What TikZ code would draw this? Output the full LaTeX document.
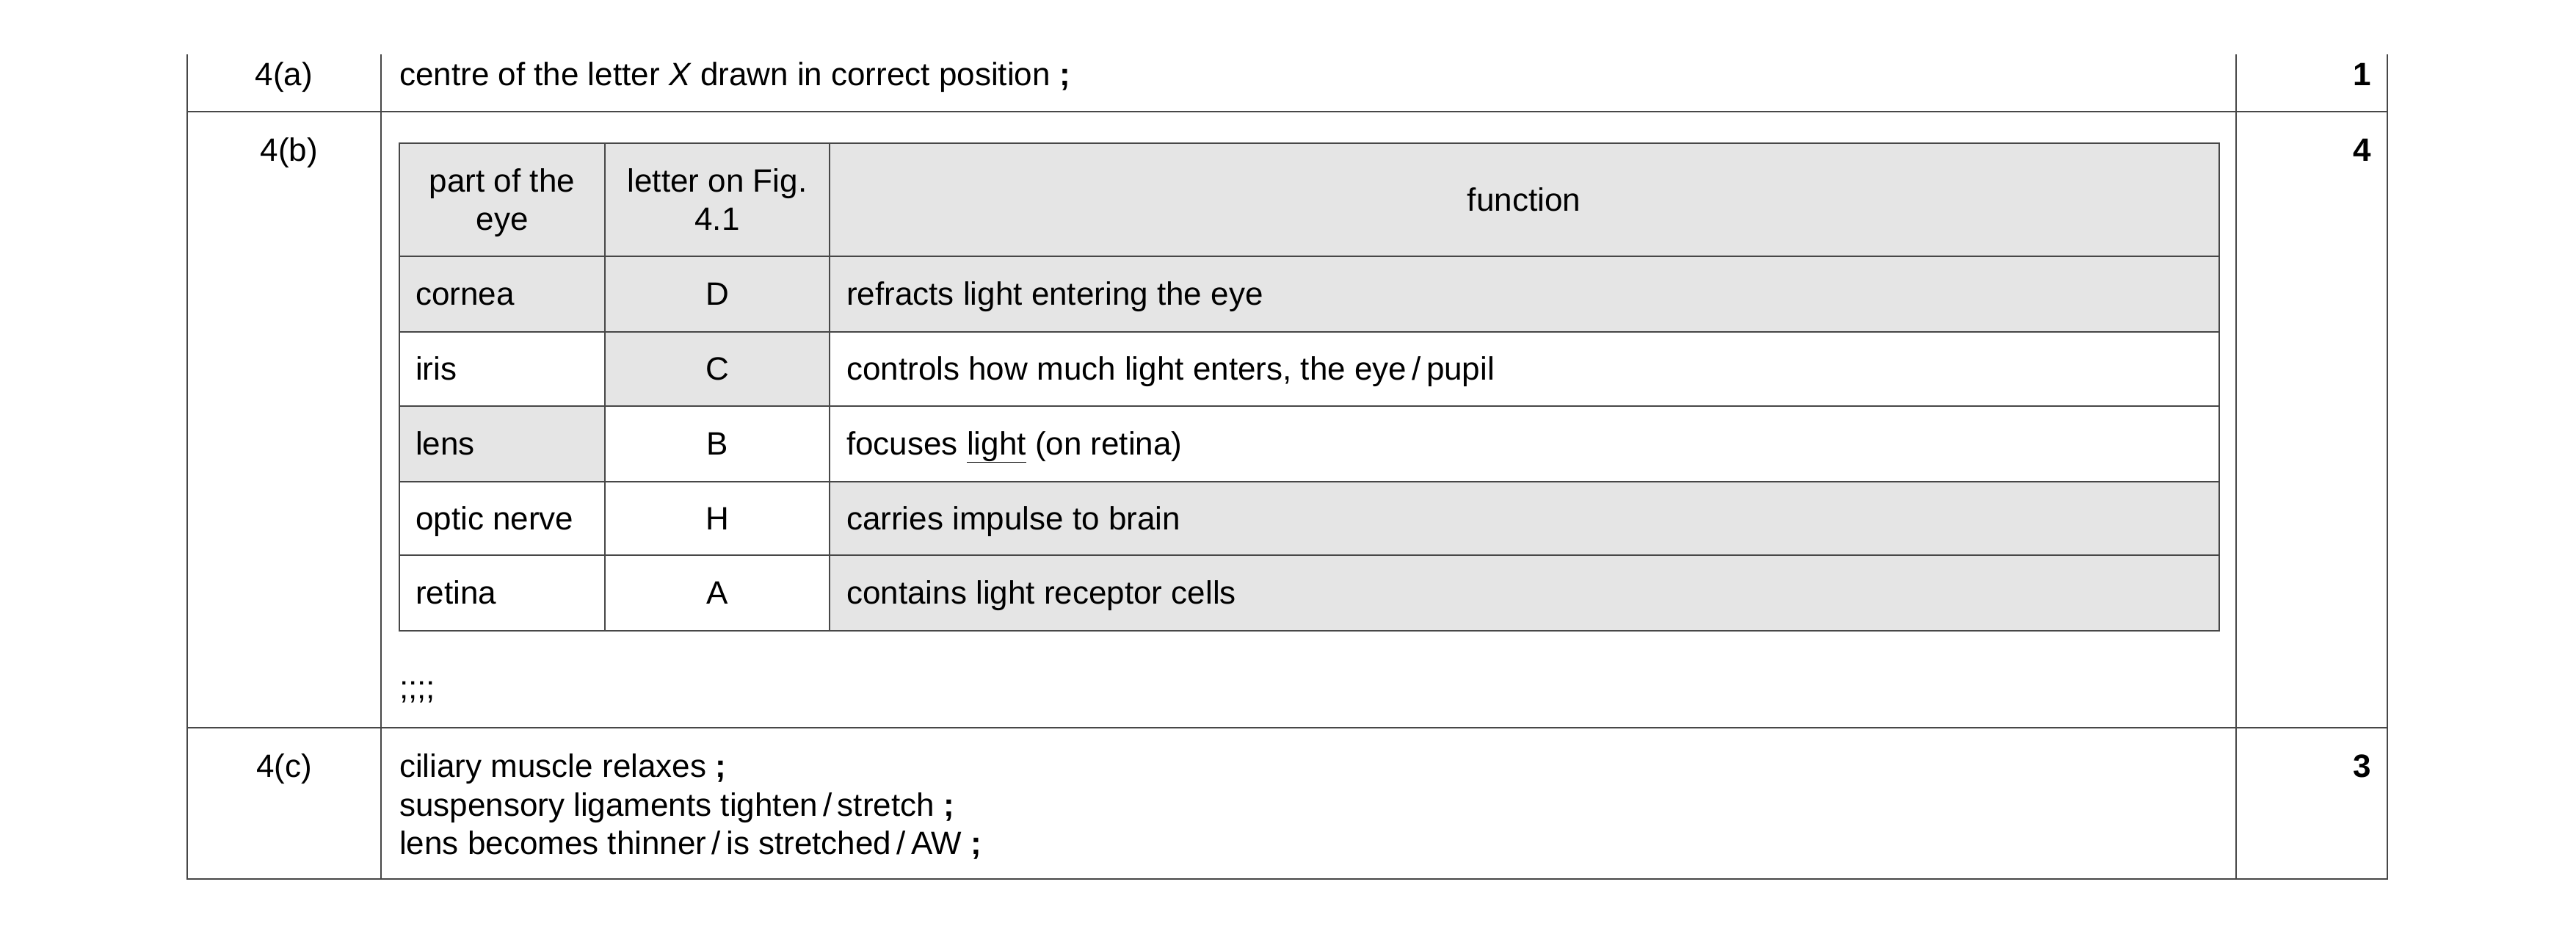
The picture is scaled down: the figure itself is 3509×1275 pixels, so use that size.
\documentclass[tikz,border=0pt]{standalone}
\usepackage{fontspec}
\setmainfont{Liberation Sans}
\begin{document}
\begin{tikzpicture}[x=1pt,y=-1pt,
  ln/.style={draw=black!72,line width=2.6pt},
  gray/.style={fill=black!10},
  t/.style={font=\fontsize{44}{53}\selectfont,inner sep=0pt},
  tl/.style={t,anchor=base west},
  tc/.style={t,anchor=base},
  tr/.style={t,anchor=base east}]
\useasboundingbox (0,0) rectangle (3509,1275);
% shaded cells
\fill[gray] (544,195) rectangle (3023,349);
\fill[gray] (544,349) rectangle (3023,452);
\fill[gray] (824,452) rectangle (1130,553);
\fill[gray] (544,553) rectangle (824,656);
\fill[gray] (1130,656) rectangle (3023,859);
% outer table
\draw[ln] (255,74) -- (255,1197) -- (3252,1197) -- (3252,74);
\draw[ln] (519,74) -- (519,1197);
\draw[ln] (3046,74) -- (3046,1197);
\draw[ln] (255,152) -- (3252,152);
\draw[ln] (255,991) -- (3252,991);
% inner table
\draw[ln] (544,195) rectangle (3023,859);
\foreach \y in {349,452,553,656,756} \draw[ln] (544,\y) -- (3023,\y);
\draw[ln] (824,195) -- (824,859);
\draw[ln] (1130,195) -- (1130,859);
% texts
\node[tc] (qa) at (387,116) {4(a)};
\node[tl] (aa) at (544,116) {centre of the letter \textit{X} drawn in correct position \textbf{;}};
\node[tr] (ma) at (3230,116) {\textbf{1}};
\node[tc] (qb) at (394,219) {4(b)};
\node[tr] (mb) at (3230,219) {\textbf{4}};
\node[tc] (h1a) at (684,261) {part of the};
\node[tc] (h1b) at (684,313) {eye};
\node[tc] (h2a) at (977,261) {letter on Fig.};
\node[tc] (h2b) at (977,313) {4.1};
\node[tc] (h3) at (2076,287) {function};
\node[tl] (p1) at (566,415) {cornea};
\node[tc] (l1) at (977,415) {D};
\node[tl] (f1) at (1153,415) {refracts light entering the eye};
\node[tl] (p2) at (566,517) {iris};
\node[tc] (l2) at (977,517) {C};
\node[tl] (f2) at (1153,517) {controls how much light enters, the eye\,/\,pupil};
\node[tl] (p3) at (566,619) {lens};
\node[tc] (l3) at (977,619) {B};
\node[tl] (f3) at (1153,619) {focuses \underline{light} (on retina)};
\node[tl] (p4) at (566,721) {optic nerve};
\node[tc] (l4) at (977,721) {H};
\node[tl] (f4) at (1153,721) {carries impulse to brain};
\node[tl] (p5) at (566,822) {retina};
\node[tc] (l5) at (977,822) {A};
\node[tl] (f5) at (1153,822) {contains light receptor cells};
\node[tl] (sc) at (544,951) {;;;;};
\node[tc] (qc) at (387,1058) {4(c)};
\node[tr] (mc) at (3230,1058) {\textbf{3}};
\node[tl] (c1) at (544,1058) {ciliary muscle relaxes \textbf{;}};
\node[tl] (c2) at (544,1111) {suspensory ligaments tighten\,/\,stretch \textbf{;}};
\node[tl] (c3) at (544,1163) {lens becomes thinner\,/\,is stretched\,/\,AW \textbf{;}};
\end{tikzpicture}
\end{document}
